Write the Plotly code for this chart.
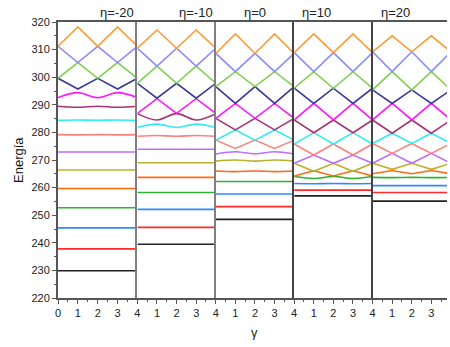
import plotly.graph_objects as go

# gamma sample points (levels are periodic in gamma with period 2)
GAMMA = [0, 1, 2, 3, 4]

PANEL_TITLES = ["η=-20", "η=-10", "η=0", "η=10", "η=20"]
Y_TICKS = [220, 230, 240, 250, 260, 270, 280, 290, 300, 310, 320]

# energy levels, lowest first, values at gamma = 0..4
E_ETA_M20 = [
    [229.9, 229.9, 229.9, 229.9, 229.9],
    [237.8, 237.8, 237.8, 237.8, 237.8],
    [245.4, 245.4, 245.4, 245.4, 245.4],
    [252.7, 252.7, 252.7, 252.7, 252.7],
    [259.7, 259.7, 259.7, 259.7, 259.7],
    [266.4, 266.4, 266.4, 266.4, 266.4],
    [272.9, 272.9, 272.9, 272.9, 272.9],
    [279.2, 279.1, 279.2, 279.1, 279.2],
    [284.4, 284.5, 284.4, 284.5, 284.4],
    [289.5, 289.1, 289.5, 289.1, 289.5],
    [292.6, 294.4, 292.6, 294.4, 292.6],
    [299.6, 295.7, 299.6, 295.7, 299.6],
    [299.6, 305.3, 299.6, 305.3, 299.6],
    [311.2, 305.3, 311.2, 305.3, 311.2],
    [311.2, 318.2, 311.2, 318.2, 311.2],
]
E_ETA_M10 = [
    [239.5, 239.5, 239.5, 239.5, 239.5],
    [245.6, 245.6, 245.6, 245.6, 245.6],
    [252.1, 252.1, 252.1, 252.1, 252.1],
    [258.2, 258.2, 258.2, 258.2, 258.2],
    [263.7, 263.7, 263.7, 263.7, 263.7],
    [269.0, 269.0, 269.0, 269.0, 269.0],
    [273.9, 273.9, 273.9, 273.9, 273.9],
    [278.6, 278.9, 278.6, 278.9, 278.6],
    [281.8, 283.0, 281.8, 283.0, 281.8],
    [286.8, 284.5, 286.8, 284.5, 286.8],
    [286.9, 292.2, 286.9, 292.2, 286.9],
    [297.8, 292.4, 297.8, 292.4, 297.8],
    [297.8, 304.0, 297.8, 304.0, 297.8],
    [310.5, 304.0, 310.5, 304.0, 310.5],
    [310.5, 317.1, 310.5, 317.1, 310.5],
]
E_ETA_0 = [
    [248.5, 248.5, 248.5, 248.5, 248.5],
    [253.1, 253.1, 253.1, 253.1, 253.1],
    [257.7, 257.7, 257.7, 257.7, 257.7],
    [262.2, 262.2, 262.2, 262.2, 262.2],
    [266.0, 265.8, 266.0, 265.8, 266.0],
    [269.6, 270.0, 269.6, 270.0, 269.6],
    [272.2, 273.0, 272.2, 273.0, 272.2],
    [277.2, 274.2, 277.2, 274.2, 277.2],
    [277.2, 280.9, 277.2, 280.9, 277.2],
    [285.1, 280.9, 285.1, 280.9, 285.1],
    [285.1, 290.5, 285.1, 290.5, 285.1],
    [296.6, 290.5, 296.6, 290.5, 296.6],
    [296.6, 302.0, 296.6, 302.0, 296.6],
    [308.6, 302.0, 308.6, 302.0, 308.6],
    [308.6, 315.7, 308.6, 315.7, 308.6],
]
E_ETA_10 = [
    [257.0, 257.0, 257.0, 257.0, 257.0],
    [259.1, 259.1, 259.1, 259.1, 259.1],
    [261.5, 261.4, 261.5, 261.4, 261.5],
    [264.0, 263.3, 264.0, 263.3, 264.0],
    [264.2, 266.1, 264.2, 266.1, 264.2],
    [268.8, 265.9, 268.8, 265.9, 268.8],
    [268.8, 271.8, 268.8, 271.8, 268.8],
    [275.8, 271.8, 275.8, 271.8, 275.8],
    [275.8, 279.9, 275.8, 279.9, 275.8],
    [284.5, 279.9, 284.5, 279.9, 284.5],
    [284.5, 290.5, 284.5, 290.5, 284.5],
    [296.0, 290.5, 296.0, 290.5, 296.0],
    [296.0, 302.0, 296.0, 302.0, 296.0],
    [308.9, 302.0, 308.9, 302.0, 308.9],
    [308.9, 315.7, 308.9, 315.7, 308.9],
]
E_ETA_20 = [
    [255.1, 255.1, 255.1, 255.1, 255.1],
    [258.2, 258.2, 258.2, 258.2, 258.2],
    [260.7, 260.7, 260.7, 260.7, 260.7],
    [263.7, 263.6, 263.7, 263.6, 263.7],
    [265.0, 266.2, 265.0, 266.2, 265.0],
    [268.8, 266.6, 268.8, 266.6, 268.8],
    [268.8, 272.4, 268.8, 272.4, 268.8],
    [276.0, 272.4, 276.0, 272.4, 276.0],
    [276.0, 279.7, 276.0, 279.7, 276.0],
    [284.5, 279.7, 284.5, 279.7, 284.5],
    [284.5, 290.5, 284.5, 290.5, 284.5],
    [295.4, 290.5, 295.4, 290.5, 295.4],
    [295.4, 302.0, 295.4, 302.0, 295.4],
    [309.2, 302.0, 309.2, 302.0, 309.2],
    [309.2, 315.0, 309.2, 315.0, 309.2],
]
PANELS = [E_ETA_M20, E_ETA_M10, E_ETA_0, E_ETA_10, E_ETA_20]

# ---- styling ----
LEVEL_COLORS = [
    "#222222", "#FF2A2A", "#2E8BFF", "#2DB32D", "#FF6A10",
    "#B8B22E", "#BC6CFF", "#FF8080", "#30EEEE", "#AA3270",
    "#FF14FF", "#3A3A99", "#7FD04F", "#8A8AFF", "#FF9A33",
]
# levels drawn as smooth waves (others are straight segments)
SMOOTH = {
    0: {7, 8, 9, 10},
    1: {7, 8, 9},
    2: {4, 5, 6},
    3: {2, 3},
    4: {3},
}

FONT = "Liberation Sans, Arial, sans-serif"
PLOT_L, PLOT_R = 58, 450
PANEL_PX = [(58, 138), (138, 217), (217, 296), (296, 375), (375, 450)]
X_MAX = [4, 4, 4, 4, 3.8]
X_TICKS = [[0, 1, 2, 3, 4], [1, 2, 3, 4], [1, 2, 3, 4], [1, 2, 3, 4], [1, 2, 3]]
DIVIDER = ["#555555", "#808080", "#808080", "#444444", "#444444"]

W = PLOT_R - PLOT_L
fig = go.Figure()

for p, levels in enumerate(PANELS):
    sfx = "" if p == 0 else str(p + 1)
    for k, vals in enumerate(levels):
        fig.add_trace(go.Scatter(
            x=GAMMA, y=vals, mode="lines",
            line=dict(color=LEVEL_COLORS[k], width=1.6,
                      shape="spline" if k in SMOOTH[p] else "linear",
                      smoothing=1.0),
            xaxis="x" + sfx, yaxis="y" + sfx,
            showlegend=False, hoverinfo="skip",
        ))

layout = dict(
    width=450, height=347,
    margin=dict(l=PLOT_L, r=0, t=22, b=49),
    paper_bgcolor="white", plot_bgcolor="white",
    font=dict(family=FONT, size=11, color="#222222"),
    annotations=[],
)

for p in range(5):
    sfx = "" if p == 0 else str(p + 1)
    d0 = (PANEL_PX[p][0] - PLOT_L) / W
    d1 = (PANEL_PX[p][1] - PLOT_L) / W
    layout["xaxis" + sfx] = dict(
        domain=[d0, d1], range=[0, X_MAX[p]],
        anchor="y" + sfx,
        showgrid=False, zeroline=False,
        showline=True, linecolor="#555555", linewidth=1.5, mirror=True,
        ticks="outside", ticklen=4, tickwidth=1.2, tickcolor="#555555",
        tickvals=X_TICKS[p], ticktext=[str(v) for v in X_TICKS[p]],
        minor=dict(tickvals=[0.5, 1.5, 2.5, 3.5], ticks="outside",
                   ticklen=2, tickwidth=1, tickcolor="#555555"),
        tickfont=dict(family=FONT, size=11, color="#222222"),
    )
    ydef = dict(
        domain=[0, 1], range=[220, 320], anchor="x" + sfx,
        showgrid=False, zeroline=False,
        showline=True, linecolor=DIVIDER[p], linewidth=2, mirror=False,
    )
    if p == 0:
        ydef.update(
            tickvals=Y_TICKS, ticks="outside", ticklen=4, tickwidth=1.2,
            tickcolor="#555555",
            minor=dict(dtick=5, ticks="outside", ticklen=2, tickwidth=1,
                       tickcolor="#555555"),
            tickfont=dict(family=FONT, size=11, color="#222222"),
        )
    else:
        ydef.update(matches="y", showticklabels=False, ticks="")
    layout["yaxis" + sfx] = ydef

    layout["annotations"].append(dict(
        text=PANEL_TITLES[p], xref="paper", yref="paper",
        x=((PANEL_PX[p][0] + PANEL_PX[p][1]) / 2 - PLOT_L) / W
        if p < 4 else (PANEL_PX[p][0] + 39.5 - PLOT_L) / W,
        y=1, yanchor="bottom", yshift=0, showarrow=False,
        font=dict(family=FONT, size=13, color="#222222"),
    ))

layout["annotations"].append(dict(
    text="γ", xref="paper", yref="paper", x=(256 - PLOT_L) / W, y=0,
    xanchor="center", yanchor="middle", yshift=-34, showarrow=False,
    font=dict(family=FONT, size=13, color="#222222"),
))
layout["annotations"].append(dict(
    text="Energía", xref="paper", yref="paper", x=0, xshift=-40, y=0.5,
    xanchor="center", yanchor="middle",
    textangle=-90, showarrow=False,
    font=dict(family=FONT, size=13, color="#111111"),
))

fig.update_layout(**layout)
fig.write_html("out.html")
